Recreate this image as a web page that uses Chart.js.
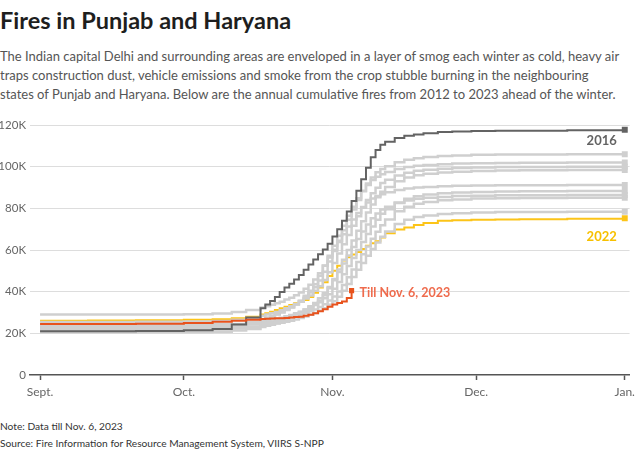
<!DOCTYPE html>
<html>
<head>
<meta charset="utf-8">
<script src="https://cdn.jsdelivr.net/npm/chart.js@4.4.0/dist/chart.umd.min.js"></script>
<style>
  body { margin: 0; width: 640px; height: 451px; background: #fff; position: relative; overflow: hidden; font-family: Lato, "Noto Sans", sans-serif; }
  .title { position: absolute; left: 0; top: 6px; font-size: 23.5px; line-height: 28px; font-weight: 700; color: #1e1e1e; white-space: nowrap; }
  .sub { position: absolute; left: 0; top: 47px; font-size: 13px; line-height: 19px; color: #555; white-space: nowrap; }
  .chart-box { position: absolute; left: 0; top: 110px; width: 640px; height: 300px; }
  .note { position: absolute; left: 0; top: 418px; font-size: 10.2px; line-height: 17px; color: #333; white-space: nowrap; }
</style>
</head>
<body>
<div class="title">Fires in Punjab and Haryana</div>
<div class="sub">The Indian capital Delhi and surrounding areas are enveloped in a layer of smog each winter as cold, heavy air<br>traps construction dust, vehicle emissions and smoke from the crop stubble burning in the neighbouring<br>states of Punjab and Haryana. Below are the annual cumulative fires from 2012 to 2023 ahead of the winter.</div>
<div class="chart-box"><canvas id="firesChart" width="640" height="300"></canvas></div>
<div class="note">Note: Data till Nov. 6, 2023<br>Source: Fire Information for Resource Management System, VIIRS S-NPP</div>

<script>
// Days since Sept. 1 (Oct. 1 = 30, Nov. 1 = 61, Dec. 1 = 91, Jan. 1 = 122)
const days = [0, 10, 20, 30, 36, 40, 43,
  46, 47, 48, 49, 50, 51, 52, 53, 54, 55, 56, 57, 58, 59, 60, 61, 62, 63, 64, 65, 66, 67, 68, 69, 70, 71, 72,
  74, 76, 78, 80, 83, 86, 90, 95, 100, 110, 122];

const monthTicks = [0, 30, 61, 91, 122];
const monthLabels = ["Sept.", "Oct.", "Nov.", "Dec.", "Jan."];
const yTicks = [0, 20, 40, 60, 80, 100, 120]; // thousands

// Cumulative fires, thousands
const fires2016 = [21.0, 21.0, 21.1, 21.5, 22.1, 24.3, 27.6,
  32.0, 33.8, 35.5, 37.5, 39.8, 42.0, 43.8, 45.8, 48.0, 50.5, 53.0, 55.5, 58.0, 60.2, 63.0, 66.5, 70.0, 74.0, 78.5, 83.5, 88.5, 94.0, 99.5, 104.5, 108.0, 110.5, 112.0,
  113.8, 114.8, 115.5, 116.0, 116.6, 116.9, 117.1, 117.2, 117.3, 117.5, 117.7];

const fires2022 = [26.1, 26.2, 26.3, 26.5, 26.8, 27.3, 28.0,
  29.0, 29.6, 30.4, 31.2, 32.0, 32.8, 33.6, 34.4, 35.2, 36.0, 37.5, 39.5, 42.0, 44.5, 47.5, 50.0, 52.5, 55.0, 56.5, 57.8, 59.0, 60.5, 62.0, 63.2, 64.2, 66.0, 68.0,
  69.8, 70.8, 72.0, 73.0, 74.0, 74.3, 74.5, 74.6, 74.8, 75.0, 75.2];

const fires2023 = [24.5, 24.5, 24.6, 25.0, 25.6, 26.0, 26.5,
  26.9, 27.0, 27.1, 27.2, 27.3, 27.4, 27.6, 27.8, 28.0, 28.4, 28.9, 29.6, 30.6, 31.6, 32.8, 33.8, 34.6, 35.3, 37.0, 40.5, null, null, null, null, null, null, null,
  null, null, null, null, null, null, null, null, null, null, null];

// the other years are drawn in grey and not told apart in the picture
const firesGreyA = [23.0, 23.0, 23.1, 23.2, 23.5, 24.3, 25.5,
  26.9, 27.6, 28.4, 29.2, 30.3, 31.3, 32.5, 33.8, 35.5, 37.1, 39.6, 42.1, 45.4, 49.6, 54.5, 59.5, 64.5, 69.5, 74.5, 79.4, 84.0, 88.2, 91.9, 94.8, 97.3, 98.9, 100.2,
  102.1, 103.3, 104.1, 104.6, 105.1, 105.4, 105.7, 105.8, 105.9, 106.0, 106.0];
const firesGreyB = [22.0, 22.0, 22.1, 22.2, 22.6, 23.6, 24.8,
  26.4, 27.2, 28.0, 29.0, 30.0, 31.2, 32.4, 34.0, 35.6, 38.0, 40.4, 43.6, 47.6, 52.4, 57.2, 62.0, 66.8, 71.6, 76.4, 80.8, 84.8, 88.4, 91.2, 93.6, 95.2, 96.4, 97.4,
  98.9, 99.8, 100.4, 100.8, 101.2, 101.5, 101.7, 101.8, 101.9, 102.0, 102.0];
const firesGreyC = [25.5, 25.5, 25.6, 25.7, 25.9, 26.5, 27.4,
  28.5, 29.0, 29.6, 30.3, 31.1, 32.1, 33.0, 34.1, 35.2, 36.7, 38.2, 40.4, 42.6, 45.6, 49.3, 53.8, 58.3, 62.8, 67.2, 71.7, 76.2, 80.3, 84.0, 87.3, 89.9, 92.2, 93.7,
  95.8, 97.1, 98.0, 98.5, 99.0, 99.4, 99.6, 99.8, 99.9, 100.0, 100.0];
const firesGreyD = [21.5, 21.5, 21.6, 21.7, 21.8, 22.3, 23.0,
  24.2, 24.6, 25.1, 25.7, 26.5, 27.3, 28.3, 29.2, 30.3, 31.5, 33.0, 34.6, 36.9, 39.2, 42.3, 46.1, 50.7, 55.3, 60.0, 64.6, 69.2, 73.8, 78.0, 81.9, 85.3, 88.0, 90.3,
  93.0, 94.8, 95.9, 96.6, 97.2, 97.6, 97.9, 98.2, 98.3, 98.4, 98.4];
const firesGreyE = [29.0, 29.0, 29.1, 29.2, 29.5, 30.2, 31.2,
  32.4, 33.0, 33.7, 34.5, 35.2, 36.2, 37.1, 38.3, 39.6, 41.4, 43.3, 45.8, 48.9, 52.6, 56.4, 60.1, 63.8, 67.6, 71.3, 74.7, 77.8, 80.6, 82.8, 84.7, 85.9, 86.8, 87.7,
  88.8, 89.5, 90.0, 90.3, 90.6, 90.8, 91.0, 91.1, 91.1, 91.2, 91.2];
const firesGreyF = [24.0, 24.0, 24.1, 24.2, 24.4, 24.5, 25.0,
  25.9, 26.3, 26.6, 27.0, 27.5, 28.2, 28.8, 29.7, 30.4, 31.4, 32.4, 33.6, 34.9, 36.9, 38.8, 41.4, 44.6, 48.4, 52.3, 56.2, 60.0, 63.9, 67.7, 71.3, 74.5, 77.4, 79.6,
  82.8, 84.6, 85.8, 86.6, 87.2, 87.6, 87.9, 88.1, 88.2, 88.3, 88.3];
const firesGreyG = [20.5, 20.5, 20.6, 20.7, 20.8, 21.4, 22.1,
  23.1, 23.6, 24.1, 24.8, 25.4, 26.3, 27.1, 28.1, 29.1, 30.4, 31.7, 33.7, 35.7, 38.3, 41.6, 45.5, 49.5, 53.5, 57.4, 61.4, 65.3, 68.9, 72.2, 75.2, 77.5, 79.5, 80.8,
  82.6, 83.8, 84.6, 85.1, 85.5, 85.9, 86.1, 86.3, 86.3, 86.4, 86.4];
const firesGreyH = [23.5, 23.5, 23.6, 23.7, 23.8, 23.9, 24.3,
  25.0, 25.3, 25.7, 26.0, 26.4, 26.9, 27.5, 28.1, 28.9, 29.7, 30.6, 31.5, 32.7, 34.0, 35.8, 37.7, 40.1, 43.2, 46.9, 50.6, 54.3, 58.0, 61.7, 65.4, 68.8, 71.9, 74.6,
  78.6, 80.8, 82.2, 83.1, 83.9, 84.3, 84.7, 84.9, 85.0, 85.1, 85.1];
const firesGreyI = [22.5, 22.5, 22.6, 22.7, 22.8, 22.9, 23.2,
  23.9, 24.2, 24.5, 24.7, 25.1, 25.6, 26.1, 26.7, 27.4, 28.1, 28.9, 29.8, 30.9, 32.0, 33.7, 35.4, 37.6, 40.4, 43.7, 47.1, 50.5, 53.8, 57.2, 60.5, 63.6, 66.4, 68.9,
  72.5, 74.5, 75.8, 76.6, 77.3, 77.7, 78.0, 78.2, 78.3, 78.4, 78.4];

const greySeries = [firesGreyA, firesGreyB, firesGreyC, firesGreyD, firesGreyE, firesGreyF, firesGreyG, firesGreyH, firesGreyI];

const COLOR_2016 = "#636363";
const COLOR_2022 = "#fcc418";
const COLOR_2023 = "#e8521c";
const COLOR_GREY = "#cfcfcf";

function toPoints(values) {
  return days
    .map((d, i) => ({ x: d, y: values[i] }))
    .filter((p) => p.y !== null);
}

function makeLine(label, values, color, width, markerSize) {
  return {
    label: label,
    data: toPoints(values),
    borderColor: color,
    backgroundColor: color,
    borderWidth: width,
    stepped: true,
    pointStyle: "rect",
    pointBorderWidth: 0,
    pointHoverRadius: 0,
    pointRadius: (ctx) => (ctx.dataIndex === ctx.dataset.data.length - 1 ? markerSize : 0),
  };
}

// dataset 0 is drawn on top
const datasets = [
  makeLine("2023", fires2023, COLOR_2023, 2, 3.6),
  makeLine("2016", fires2016, COLOR_2016, 2, 4.2),
];
greySeries.forEach((vals, i) => {
  datasets.push(makeLine("grey" + i, vals, COLOR_GREY, 2.5, 4.2));
});
datasets.push(makeLine("2022", fires2022, COLOR_2022, 2, 4.2));

// Text labels next to highlighted lines
const endLabels = {
  id: "endLabels",
  afterDatasetsDraw(chart) {
    const { ctx, scales } = chart;
    const x = scales.x;
    const y = scales.y;
    ctx.save();
    ctx.font = "bold 13px Lato";
    ctx.textBaseline = "middle";

    ctx.textAlign = "right";
    ctx.fillStyle = COLOR_2016;
    ctx.fillText("2016", x.getPixelForValue(122) - 8, y.getPixelForValue(fires2016[fires2016.length - 1]) + 11);

    ctx.fillStyle = "#f7c000";
    ctx.fillText("2022", x.getPixelForValue(122) - 8, y.getPixelForValue(fires2022[fires2022.length - 1]) + 18);

    const last23 = datasets[0].data[datasets[0].data.length - 1];
    ctx.textAlign = "left";
    ctx.font = "bold 12.5px Lato";
    ctx.fillStyle = "#ef6b4d";
    ctx.fillText("Till Nov. 6, 2023", x.getPixelForValue(last23.x) + 8, y.getPixelForValue(last23.y) + 2);
    ctx.restore();
  },
};

const chartCanvas = document.getElementById("firesChart");
new Chart(chartCanvas.getContext("2d"), {
  type: "line",
  data: { datasets: datasets },
  plugins: [endLabels],
  options: {
    responsive: false,
    animation: false,
    devicePixelRatio: 1,
    layout: { padding: { top: 15, right: 8, left: 0, bottom: 0 } },
    plugins: { legend: { display: false }, tooltip: { enabled: false } },
    elements: { line: { tension: 0 } },
    scales: {
      x: {
        type: "linear",
        min: -2.1,
        max: 123,
        afterBuildTicks: (scale) => {
          scale.ticks = monthTicks.map((v) => ({ value: v }));
        },
        afterFit: (scale) => {
          scale.height = 35;
        },
        ticks: {
          callback: (value, index) => monthLabels[index],
          color: "#666",
          font: { family: "Lato", size: 12 },
          padding: 5,
          maxRotation: 0,
          autoSkip: false,
        },
        grid: { drawOnChartArea: false, drawTicks: true, tickLength: 5, tickColor: "#555", tickWidth: 1.5 },
        border: { display: true, color: "#555", width: 1.5 },
      },
      y: {
        min: 0,
        max: 120,
        afterBuildTicks: (scale) => {
          scale.ticks = yTicks.map((v) => ({ value: v }));
        },
        afterFit: (scale) => {
          scale.width = 30;
        },
        ticks: {
          callback: (value) => (value === 0 ? "0" : value + "K"),
          color: "#666",
          font: { family: "Lato", size: 11.5 },
          padding: 4,
        },
        grid: {
          drawTicks: false,
          color: (ctx) => (ctx.tick && ctx.tick.value === 0 ? "rgba(0,0,0,0)" : "#dddddd"),
        },
        border: { display: false },
      },
    },
  },
});
</script>
</body>
</html>
